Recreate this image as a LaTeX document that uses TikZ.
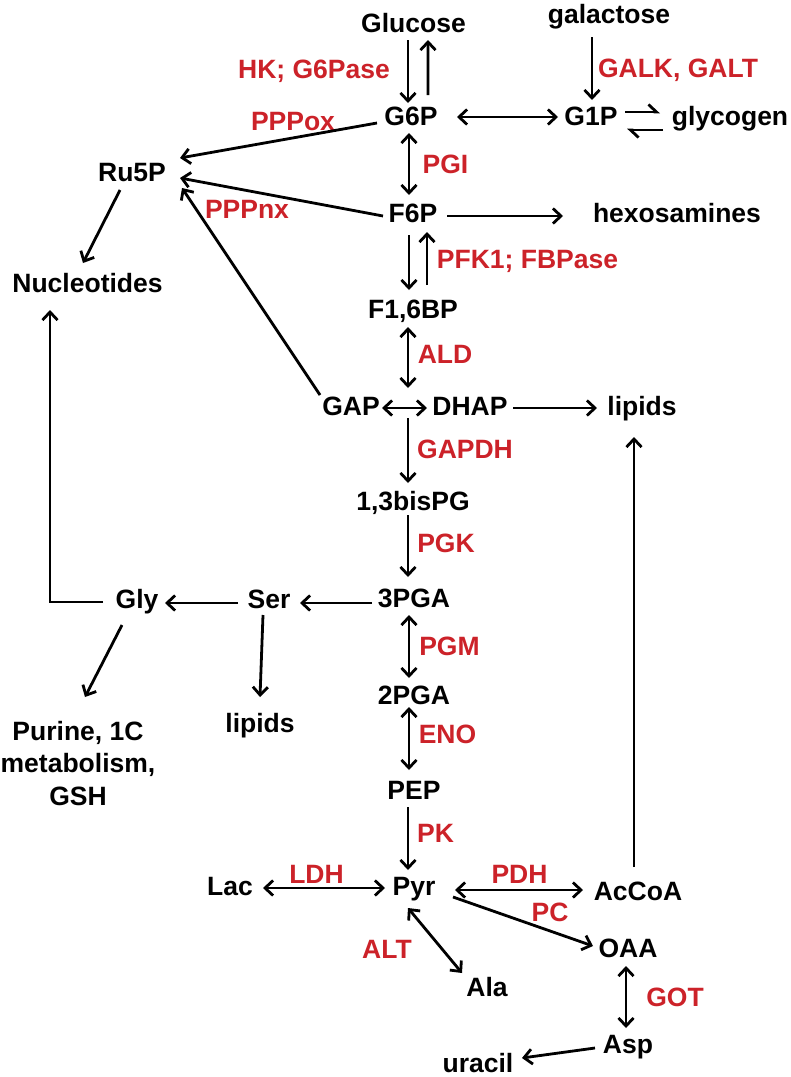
\documentclass[tikz,border=0pt]{standalone}
\usepackage{fontspec}
\setmainfont{Liberation Sans}
\usetikzlibrary{arrows.meta,calc}
\definecolor{enzred}{RGB}{204,34,41}
\newcommand\molfont{\fontsize{26.5bp}{32.5bp}\selectfont\bfseries}
\begin{document}
\begin{tikzpicture}[x=1bp,y=-1bp,
  mol/.style={font=\molfont, inner sep=0pt, text height=18bp, text depth=0pt},
  molml/.style={font=\molfont, inner sep=0pt, align=center},
  enz/.style={mol, text=enzred},
  tipb/.tip={Straight Barb[length=8bp,width=15bp]},
  arr/.style={draw, line width=2.8bp, -tipb},
  darr/.style={draw, line width=2.8bp, tipb-tipb},
  harp/.style={draw, line width=2.8bp, -{Straight Barb[left,length=8bp,width=15bp]}},
  line/.style={draw, line width=2.8bp}]
\useasboundingbox[fill=white] (0,0) rectangle (791,1077);
% metabolites
\node[mol] (glucose) at (413.5,23) {Glucose};
\node[mol] (galactose) at (609,14) {galactose};
\node[mol] (g6p) at (411,116) {G6P};
\node[mol] (g1p) at (591,116) {G1P};
\node[mol] (glycogen) at (730,116) {glycogen};
\node[mol] (ru5p) at (132,172) {Ru5P};
\node[mol] (f6p) at (413,213) {F6P};
\node[mol] (hexos) at (677,213) {hexosamines};
\node[mol] (nucl) at (87.5,283) {Nucleotides};
\node[mol] (f16bp) at (413,309) {F1,6BP};
\node[mol] (gap) at (351,406) {GAP};
\node[mol] (dhap) at (470,406) {DHAP};
\node[mol] (lipidsA) at (642,406) {lipids};
\node[mol] (bispg) at (413,501) {1,3bisPG};
\node[mol] (pga3) at (414,598) {3PGA};
\node[mol] (ser) at (269,599) {Ser};
\node[mol] (gly) at (137,599) {Gly};
\node[mol] (pga2) at (414,695) {2PGA};
\node[mol] (lipidsB) at (260,723) {lipids};
\node[molml, anchor=north] (purine) at (78,721) {Purine, 1C\\metabolism,\\GSH};
\node[mol] (pep) at (414,790) {PEP};
\node[mol] (pyr) at (414,886) {Pyr};
\node[mol] (lac) at (230,886) {Lac};
\node[mol] (accoa) at (638,891) {AcCoA};
\node[mol] (oaa) at (628,948) {OAA};
\node[mol] (ala) at (487,987) {Ala};
\node[mol] (asp) at (628,1044) {Asp};
\node[mol] (uracil) at (478,1063) {uracil};
\coordinate (ald) at (408,408);
% enzymes
\node[enz] (hk) at (314,69) {HK; G6Pase};
\node[enz] (galk) at (678,68) {GALK, GALT};
\node[enz] (pppox) at (293,121) {PPPox};
\node[enz] (pgi) at (445.5,164) {PGI};
\node[enz] (pppnx) at (247,209) {PPPnx};
\node[enz] (pfk) at (527.5,259) {PFK1; FBPase};
\node[enz] (aldl) at (445,354) {ALD};
\node[enz] (gapdh) at (465,449) {GAPDH};
\node[enz] (pgk) at (446,543) {PGK};
\node[enz] (pgm) at (449.5,646) {PGM};
\node[enz] (eno) at (447.5,734) {ENO};
\node[enz] (pk) at (435.5,833) {PK};
\node[enz] (ldh) at (316.5,874) {LDH};
\node[enz] (pdh) at (519.5,874) {PDH};
\node[enz] (pc) at (550,912) {PC};
\node[enz] (alt) at (387,949) {ALT};
\node[enz] (got) at (675,997) {GOT};
% connectors
\path[arr] ($(glucose)+(-5.5,17)$) -- ($(g6p)+(-3,-13)$);
\path[arr] ($(g6p)+(17,-21)$) -- ($(glucose)+(14.5,17)$);
\path[arr] ($(galactose)+(-17,23)$) -- ($(g1p)+(1,-16)$);
\path[darr] ($(g6p)+(46,1)$) -- ($(g1p)+(-33,1)$);
\path[harp] ($(g1p)+(34,-4)$) -- ($(glycogen)+(-70,-4)$);
\path[harp] ($(glycogen)+(-67,14)$) -- ($(g1p)+(36,14)$);
\path[arr] ($(g6p)+(-34,7)$) -- ($(ru5p)+(48,-14)$);
\path[arr] ($(f6p)+(-30,3)$) -- ($(ru5p)+(48,6)$);
\path[arr] ($(gap)+(-31,-11)$) -- ($(ru5p)+(50,16)$);
\path[arr] ($(ru5p)+(-12,18)$) -- ($(nucl)+(-4.5,-20)$);
\path[darr] ($(g6p)+(-2,17)$) -- ($(f6p)+(-4,-18)$);
\path[arr] ($(f6p)+(34,3)$) -- ($(hexos)+(-114,3)$);
\path[arr] ($(f6p)+(-4,22)$) -- ($(f16bp)+(-4,-19)$);
\path[arr] ($(f16bp)+(14,-24)$) -- ($(f6p)+(14,19)$);
\path[darr] ($(f16bp)+(-5,18)$) -- ($(ald)+(0,-20)$);
\path[darr] ($(gap)+(31,2)$) -- ($(dhap)+(-43,2)$);
\path[arr] ($(dhap)+(43,2)$) -- ($(lipidsA)+(-45,2)$);
\path[arr] ($(ald)+(0,10)$) -- ($(bispg)+(-5,-18)$);
\path[arr] ($(bispg)+(-5,14)$) -- ($(pga3)+(-6,-21)$);
\path[darr] ($(pga3)+(-5,17)$) -- ($(pga2)+(-5,-17)$);
\path[darr] ($(pga2)+(-5,12)$) -- ($(pep)+(-5,-20)$);
\path[arr] ($(pep)+(-6,17)$) -- ($(pyr)+(-6,-16)$);
\path[arr] ($(pga3)+(-42,5)$) -- ($(ser)+(31,4)$);
\path[arr] ($(ser)+(-31,4)$) -- ($(gly)+(28,4)$);
\path[arr] ($(gly)+(-34,3)$) -| ($(nucl)+(-37.5,27)$);
\path[arr] ($(gly)+(-15,26)$) -- ($(purine.north)+(7,-24)$);
\path[arr] ($(ser)+(-6,16)$) -- ($(lipidsB)+(0,-26)$);
\path[darr] ($(lac)+(33,2)$) -- ($(pyr)+(-29,2)$);
\path[darr] ($(pyr)+(41,4)$) -- ($(accoa)+(-55,-1)$);
\path[arr] ($(pyr)+(39,11)$) -- ($(oaa)+(-35,-2)$);
\path[darr] ($(pyr)+(-6,22)$) -- ($(ala)+(-25,-14)$);
\path[arr] ($(accoa)+(-4,-24)$) -- ($(lipidsA)+(-8,31)$);
\path[darr] ($(oaa)+(-2,18)$) -- ($(asp)+(-2,-16)$);
\path[arr] ($(asp)+(-33,4)$) -- ($(uracil)+(44,-5)$);
\end{tikzpicture}
\end{document}
